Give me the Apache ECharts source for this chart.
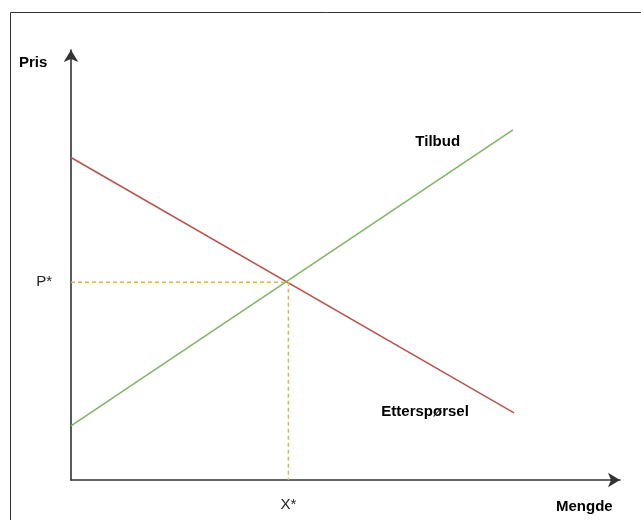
<!DOCTYPE html>
<html>
<head>
<meta charset="utf-8">
<script src="https://cdn.jsdelivr.net/npm/echarts@6/dist/echarts.min.js"></script>
<style>
html,body{margin:0;padding:0;background:#fff;}
#c{width:641px;height:520px;}
</style>
</head>
<body>
<div id="c"></div>
<script>
// Data (abstract units)
const demand = [[0, 7.50], [8.07, 1.56]];       // Etterspørsel
const supply = [[0, 1.26], [8.05, 8.14]];       // Tilbud
const equilibrium = [3.96, 4.60];               // X*, P*
const tickLabels = { x: 'X*', y: 'P*' };
const axisNames = { x: 'Mengde', y: 'Pris' };
const curveLabels = [
  { name: 'Tilbud', value: [6.68, 7.86] },
  { name: 'Etterspørsel', value: [6.45, 1.58] }
];

const FONT = '"Liberation Sans", Arial, Helvetica, sans-serif';
const chart = echarts.init(document.getElementById('c'), null, { renderer: 'canvas' });

const axisCommon = {
  type: 'value', min: 0, max: 10,
  splitLine: { show: false },
  axisTick: { show: false },
  axisLine: {
    show: true,
    symbol: ['none', 'arrow'],
    symbolSize: [11, 12],
    lineStyle: { color: '#333', width: 1.6 }
  }
};

chart.setOption({
  animation: false,
  backgroundColor: '#fff',
  grid: { left: 71, top: 50, width: 549, height: 430 },
  xAxis: Object.assign({}, axisCommon, {
    axisLabel: {
      customValues: [equilibrium[0]],
      formatter: () => tickLabels.x,
      margin: 17, fontSize: 15, color: '#222', fontFamily: FONT
    }
  }),
  yAxis: Object.assign({}, axisCommon, {
    axisLabel: {
      customValues: [equilibrium[1]],
      formatter: () => tickLabels.y,
      margin: 19, fontSize: 15, color: '#222', fontFamily: FONT
    }
  }),
  graphic: [
    { type: 'rect', silent: true, z: -1,
      shape: { x: 10.5, y: 12.5, width: 700, height: 600 },
      style: { fill: 'none', stroke: '#333', lineWidth: 1 } },
    { type: 'text', left: 19, top: 55,
      style: { text: axisNames.y, font: 'bold 15px ' + FONT, fill: '#000' } },
    { type: 'text', left: 556, top: 499,
      style: { text: axisNames.x, font: 'bold 15px ' + FONT, fill: '#000' } }
  ],
  series: [
    { type: 'line', data: demand, symbol: 'none', silent: true,
      lineStyle: { color: '#b85450', width: 1.5 } },
    { type: 'line', data: supply, symbol: 'none', silent: true,
      lineStyle: { color: '#82b366', width: 1.5 } },
    { type: 'line', symbol: 'none', silent: true,
      data: [[0, equilibrium[1]], equilibrium, [equilibrium[0], 0]],
      lineStyle: { color: '#d6b656', width: 1.5, type: [4, 3] } },
    { type: 'scatter', symbolSize: 0, silent: true, clip: false,
      data: curveLabels,
      itemStyle: { color: 'transparent', opacity: 1 },
      label: { show: true, position: 'inside', formatter: p => p.name,
        fontSize: 15, fontWeight: 'bold', color: '#000', fontFamily: FONT,
        textBorderWidth: 0, textBorderColor: 'transparent', opacity: 1 } }
  ]
});
</script>
</body>
</html>
